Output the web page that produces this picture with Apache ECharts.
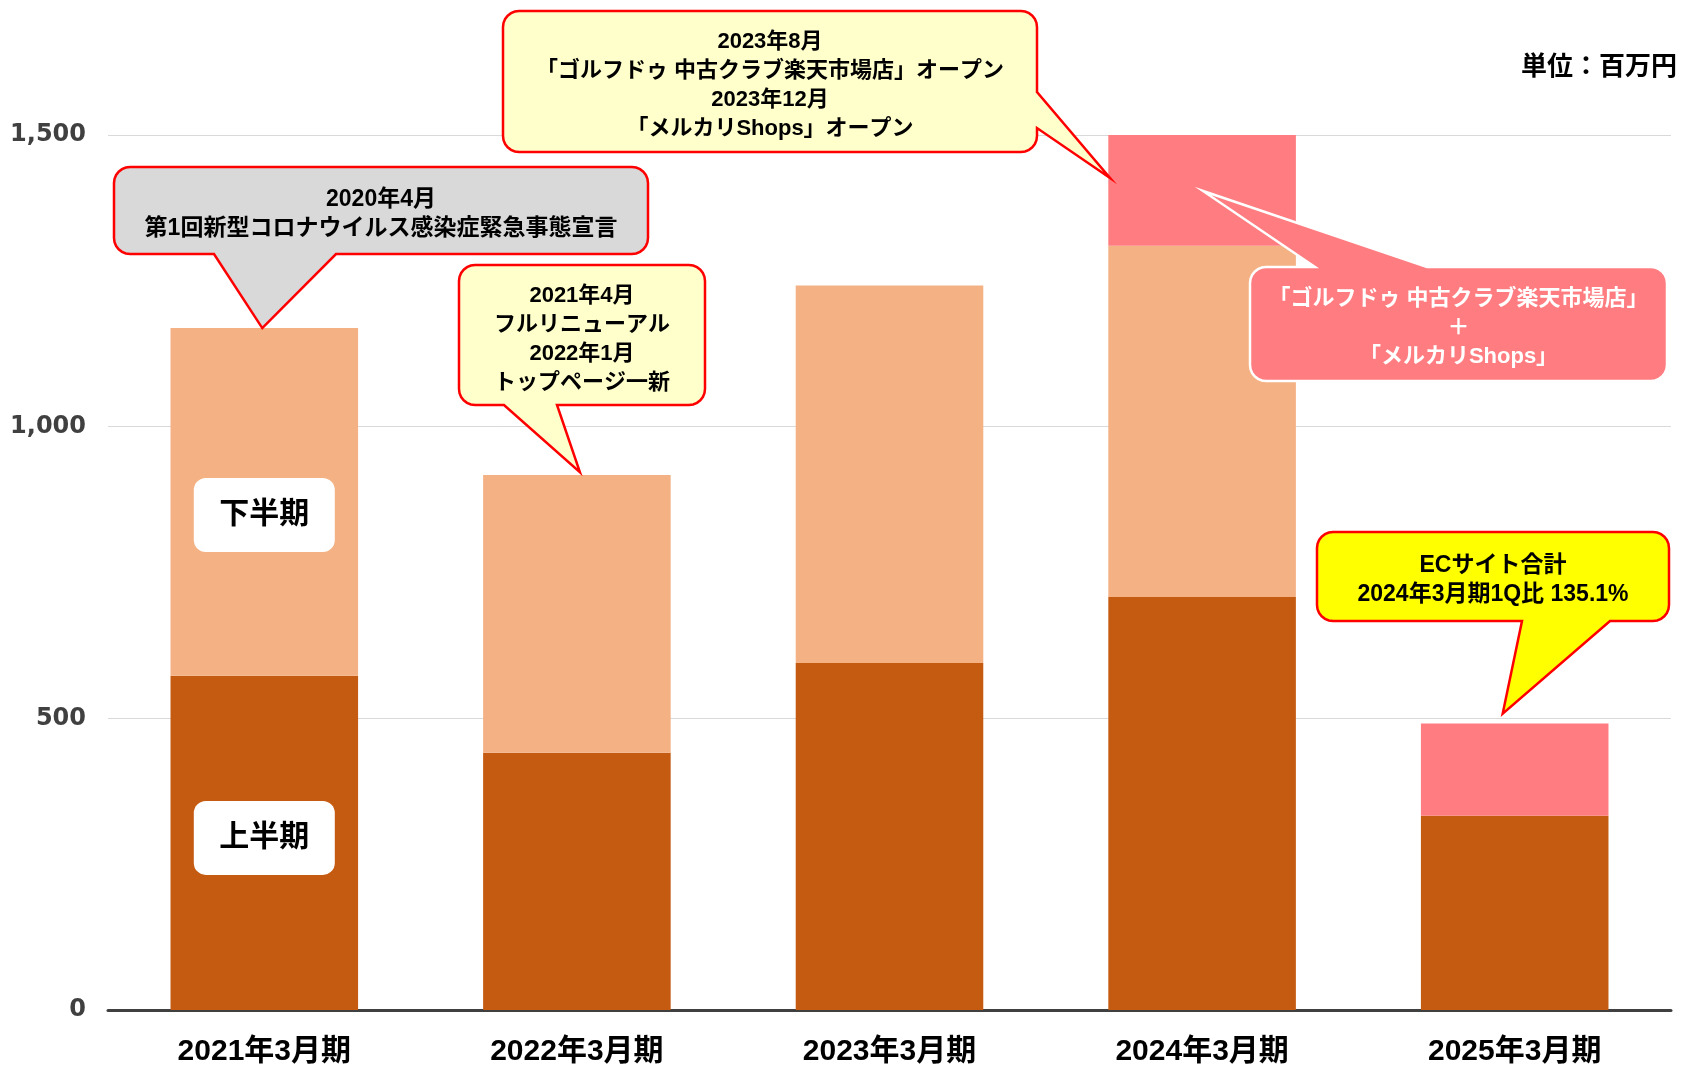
<!DOCTYPE html>
<html>
<head>
<meta charset="utf-8">
<script src="https://cdn.jsdelivr.net/npm/echarts@6/dist/echarts.min.js"></script>
<style>
  html, body { margin: 0; padding: 0; background: #fff; }
  #chart { width: 1683px; height: 1067px; }
</style>
</head>
<body>
<div id="chart"></div>
<script>
// data (百万円)
var periods = ['2021年3月期', '2022年3月期', '2023年3月期', '2024年3月期', '2025年3月期'];
var firstHalf = [573, 441, 595, 708, 333];     // 上半期
var secondHalf = [596, 476, 647, 602, 0];      // 下半期
var ecShops = [0, 0, 0, 190, 158];             // 楽天市場店 + メルカリShops
var yTicks = [0, 500, 1000, 1500];

var FONT = '"Liberation Sans", "Noto Sans CJK JP", sans-serif';

var chart = echarts.init(document.getElementById('chart'));

function halfLabel(text, dy) {
    return {
        show: true,
        position: 'inside',
        offset: [0, dy],
        formatter: text,
        backgroundColor: '#ffffff',
        borderRadius: 12,
        padding: 0,
        width: 141,
        height: 74,
        lineHeight: 74,
        align: 'center',
        color: '#000',
        fontSize: 30,
        fontWeight: 'bold',
        fontFamily: FONT
    };
}

var option = {
    animation: false,
    backgroundColor: '#ffffff',
    grid: { left: 108, right: 12, top: 135, bottom: 57 },
    xAxis: {
        type: 'category',
        data: periods,
        axisTick: { show: false },
        axisLine: { lineStyle: { color: '#404040', width: 3 } },
        axisLabel: {
            color: '#000',
            fontSize: 30,
            fontWeight: 'bold',
            fontFamily: FONT,
            margin: 27
        }
    },
    yAxis: {
        type: 'value',
        min: yTicks[0],
        max: yTicks[yTicks.length - 1],
        interval: 500,
        axisLine: { show: false },
        axisTick: { show: false },
        axisLabel: {
            color: '#404040',
            fontSize: 24,
            fontWeight: 'bold',
            fontFamily: '"DejaVu Sans", sans-serif',
            margin: 22,
            formatter: function (v) { return v.toLocaleString('en-US'); }
        },
        splitLine: { lineStyle: { color: '#d9d9d9', width: 1 } }
    },
    series: [
        {
            name: '上半期',
            type: 'bar',
            stack: 'total',
            barWidth: '60%',
            itemStyle: { color: '#C55A11' },
            data: firstHalf.map(function (v, i) {
                return i === 0 ? { value: v, label: halfLabel('上半期', -5) } : v;
            })
        },
        {
            name: '下半期',
            type: 'bar',
            stack: 'total',
            barWidth: '60%',
            itemStyle: { color: '#F4B183' },
            data: secondHalf.map(function (v, i) {
                return i === 0 ? { value: v, label: halfLabel('下半期', 13) } : v;
            })
        },
        {
            name: 'ECサイト',
            type: 'bar',
            stack: 'total',
            barWidth: '60%',
            itemStyle: { color: '#FF7C80' },
            data: ecShops
        }
    ]
};
chart.setOption(option);

// rounded corner points (quarter circle from angle a0)
function corner(cx, cy, r, a0) {
    var pts = [];
    for (var k = 0; k <= 6; k++) {
        var a = a0 + (Math.PI / 2) * k / 6;
        pts.push([cx + r * Math.cos(a), cy + r * Math.sin(a)]);
    }
    return pts;
}

// callout outline: rounded box with a pointed tail on one side
function bubble(x, y, w, h, r, t) {
    var pts = [];
    var P = Math.PI;
    pts = pts.concat(corner(x + r, y + r, r, P));
    if (t.side === 'top') pts.push([t.a, y], [t.tx, t.ty], [t.b, y]);
    pts = pts.concat(corner(x + w - r, y + r, r, -P / 2));
    if (t.side === 'right') pts.push([x + w, t.a], [t.tx, t.ty], [x + w, t.b]);
    pts = pts.concat(corner(x + w - r, y + h - r, r, 0));
    if (t.side === 'bottom') pts.push([t.b, y + h], [t.tx, t.ty], [t.a, y + h]);
    pts = pts.concat(corner(x + r, y + h - r, r, P / 2));
    return pts;
}

function topOf(i) {
    var total = firstHalf[i] + secondHalf[i] + ecShops[i];
    return chart.convertToPixel({ seriesIndex: 0 }, [i, total]);
}

var p1 = topOf(0), p2 = topOf(1), p5 = topOf(4);

var callouts = [
    { box: [114, 167, 534, 87], size: 23, tail: { side: 'bottom', a: 214, b: 336, tx: p1[0] - 2, ty: p1[1] },
      fill: '#D9D9D9', stroke: '#FF0000', color: '#000',
      text: '2020年4月\n第1回新型コロナウイルス感染症緊急事態宣言' },
    { box: [459, 265, 246, 140], size: 22, tail: { side: 'bottom', a: 504, b: 557, tx: p2[0] + 3, ty: p2[1] - 3 },
      fill: '#FFFFCC', stroke: '#FF0000', color: '#000',
      text: '2021年4月\nフルリニューアル\n2022年1月\nトップページ一新' },
    { box: [503, 11, 534, 141], size: 22, tail: { side: 'right', a: 92, b: 128, tx: 1110, ty: 178 },
      fill: '#FFFFCC', stroke: '#FF0000', color: '#000',
      text: '2023年8月\n「ゴルフドゥ 中古クラブ楽天市場店」オープン\n2023年12月\n「メルカリShops」オープン' },
    { box: [1250, 267, 417, 114], size: 22, tail: { side: 'top', a: 1315, b: 1427, tx: 1203, ty: 191 },
      fill: '#FF7C80', stroke: '#FFFFFF', color: '#FFFFFF',
      text: '「ゴルフドゥ 中古クラブ楽天市場店」\n＋\n「メルカリShops」' },
    { box: [1317, 532, 352, 89], size: 23, tail: { side: 'bottom', a: 1522, b: 1610, tx: p5[0] - 12, ty: p5[1] - 10 },
      fill: '#FFFF00', stroke: '#FF0000', color: '#000',
      text: 'ECサイト合計\n2024年3月期1Q比 135.1%' }
];

var graphics = [];
callouts.forEach(function (c) {
    var b = c.box;
    graphics.push({
        type: 'polygon',
        z: 50,
        shape: { points: bubble(b[0], b[1], b[2], b[3], 16, c.tail) },
        style: { fill: c.fill, stroke: c.stroke, lineWidth: 2.5, lineJoin: 'miter' }
    });
    graphics.push({
        type: 'text',
        z: 51,
        style: {
            text: c.text,
            x: b[0] + b[2] / 2,
            y: b[1] + b[3] / 2 + 4,
            textAlign: 'center',
            textVerticalAlign: 'middle',
            lineHeight: 29,
            fill: c.color,
            font: 'bold ' + c.size + 'px ' + FONT
        }
    });
});

graphics.push({
    type: 'text',
    z: 51,
    style: {
        text: '単位：百万円',
        x: 1677,
        y: 68,
        textAlign: 'right',
        textVerticalAlign: 'middle',
        fill: '#000',
        font: 'bold 26px ' + FONT
    }
});

chart.setOption({ graphic: graphics });

window.addEventListener('resize', function () { chart.resize(); });
</script>
</body>
</html>
